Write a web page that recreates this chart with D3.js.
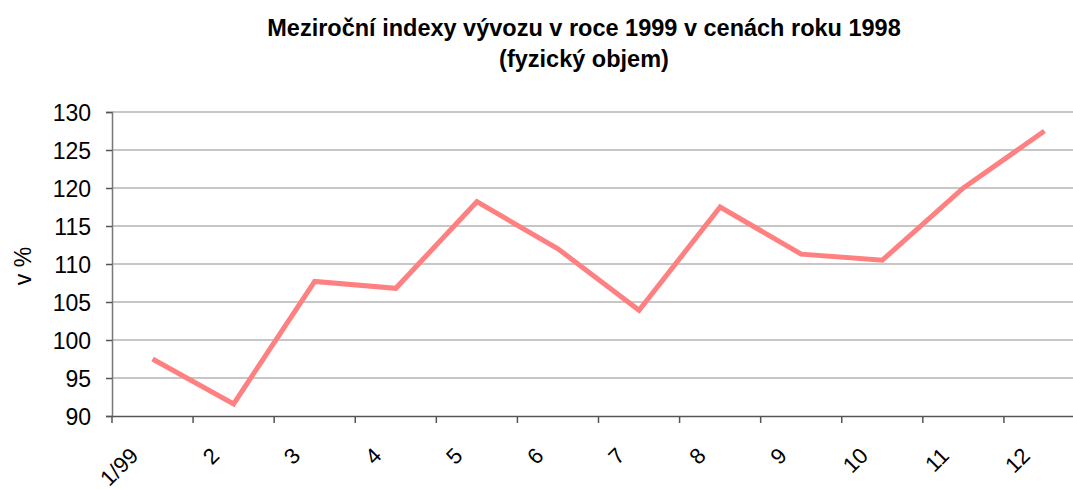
<!DOCTYPE html>
<html><head><meta charset="utf-8">
<script src="https://cdn.jsdelivr.net/npm/d3@7"></script>
<style>body{margin:0;background:#fff;overflow:hidden}svg{display:block}</style>
</head><body>
<script>
const titleLines = ["Meziroční indexy vývozu v roce 1999 v cenách roku 1998", "(fyzický objem)"];
const yAxisTitle = "v %";
const categories = ["1/99","2","3","4","5","6","7","8","9","10","11","12"];
const values = [97.5, 91.6, 107.7, 106.8, 118.2, 112.0, 103.9, 117.5, 111.3, 110.5, 120.0, 127.5];
const yTicks = [90, 95, 100, 105, 110, 115, 120, 125, 130];

(function () {
const W = 1073, H = 489;
const pLeft = 112, pRight = 1085, pTop = 112, pBottom = 416;
const svg = d3.select("body").append("svg").attr("width", W).attr("height", H);

const x = d3.scaleBand().domain(categories).range([pLeft, pRight]).padding(0);
const y = d3.scaleLinear().domain([90, 130]).range([pBottom, pTop]);

// gridlines
svg.append("g").selectAll("line").data(yTicks.slice(1)).join("line")
  .attr("x1", pLeft).attr("x2", pRight)
  .attr("y1", d => y(d)).attr("y2", d => y(d))
  .attr("stroke", "#b4b4b4").attr("stroke-width", 1.5);

// y axis
const yAxis = svg.append("g").attr("transform", `translate(${pLeft},0)`)
  .call(d3.axisLeft(y).tickValues(yTicks).tickSize(6).tickPadding(15));
yAxis.select(".domain").attr("stroke", "#777").attr("stroke-width", 1.5);
yAxis.selectAll(".tick line").attr("stroke", "#555").attr("stroke-width", 1.5);
yAxis.selectAll("text").attr("font-family", "Liberation Sans, Arial, sans-serif")
  .attr("font-size", 23).attr("fill", "#000").attr("dy", "0.36em");

// x axis
const xAxis = svg.append("g").attr("transform", `translate(0,${pBottom})`)
  .call(d3.axisBottom(x).tickSize(0).tickFormat(""));
xAxis.select(".domain").attr("stroke", "#555").attr("stroke-width", 1.5);
const bounds = categories.map(c => x(c));
svg.append("g").selectAll("line").data(bounds).join("line")
  .attr("x1", d => d).attr("x2", d => d)
  .attr("y1", pBottom).attr("y2", pBottom + 7)
  .attr("stroke", "#555").attr("stroke-width", 1.5);

svg.append("g").selectAll("text").data(categories).join("text")
  .attr("transform", d => `translate(${x(d) + x.bandwidth()/2 - 13},${pBottom + 41}) rotate(-45)`)
  .attr("text-anchor", "end")
  .attr("font-family", "Liberation Sans, Arial, sans-serif")
  .attr("font-size", 22).attr("fill", "#000")
  .text(d => d);

// line
const line = d3.line().x((d, i) => x(categories[i]) + x.bandwidth()/2).y(d => y(d));
svg.append("path").datum(values).attr("d", line)
  .attr("fill", "none").attr("stroke", "#ff8080").attr("stroke-width", 5)
  .attr("stroke-linejoin", "miter");

// titles
svg.append("g").selectAll("text").data(titleLines).join("text")
  .attr("x", 584).attr("y", (d, i) => 36 + i * 31)
  .attr("text-anchor", "middle")
  .attr("font-family", "Liberation Sans, Arial, sans-serif")
  .attr("font-weight", "bold").attr("font-size", 23.5).attr("fill", "#000")
  .text(d => d);

svg.append("text")
  .attr("transform", `translate(31,266) rotate(-90)`)
  .attr("text-anchor", "middle")
  .attr("font-family", "Liberation Sans, Arial, sans-serif")
  .attr("font-size", 23).attr("fill", "#000")
  .text(yAxisTitle);
})();
</script>
</body></html>
